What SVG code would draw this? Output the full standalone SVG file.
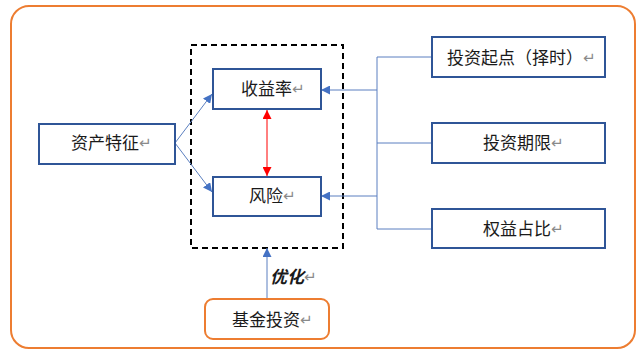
<svg xmlns="http://www.w3.org/2000/svg" width="640" height="354" viewBox="0 0 640 354">
<defs>
<style>
.node{fill:#fff;stroke:#2F5597;stroke-width:2}
.lbl{font-family:"Liberation Sans","Noto Sans CJK SC",sans-serif;font-size:17px;fill:#1a1a1a;dominant-baseline:central}
.pm{fill:#8a8a8a;font-size:15px;font-family:"DejaVu Sans",sans-serif}
.con{fill:none;stroke:#5B7FC0;stroke-width:1}
</style>
<marker id="ab" viewBox="0 0 10 10" refX="10" refY="5" markerWidth="9" markerHeight="9" markerUnits="userSpaceOnUse" orient="auto"><path d="M0,0 L10,5 L0,10 z" fill="#4472C4"/></marker>
<marker id="ar" viewBox="0 0 10 10" refX="10" refY="5" markerWidth="9" markerHeight="9" markerUnits="userSpaceOnUse" orient="auto-start-reverse"><path d="M0,0 L10,5 L0,10 z" fill="#FF0000"/></marker>
</defs>
<rect x="0" y="0" width="640" height="354" fill="#fff"/>
<rect x="11" y="6" width="624" height="342" rx="18" fill="none" stroke="#ED7D31" stroke-width="2"/>
<rect x="191" y="45" width="152" height="203" fill="none" stroke="#000" stroke-width="2" stroke-dasharray="6,4"/>
<g id="connectors">
<path class="con" d="M175,143 L212,94" marker-end="url(#ab)"/>
<path class="con" d="M175,143 L212,192" marker-end="url(#ab)"/>
<path class="con" d="M432,57 H377 V229 H432"/>
<path class="con" d="M377,143 H432"/>
<path class="con" d="M377,90 H321" marker-end="url(#ab)"/>
<path class="con" d="M377,196 H321" marker-end="url(#ab)"/>
<path d="M267,110 V176" stroke="#FF0000" stroke-width="1" fill="none" marker-start="url(#ar)" marker-end="url(#ar)"/>
<path class="con" d="M267,298 V248" marker-end="url(#ab)"/>
<text class="lbl" x="270" y="277" font-style="italic" font-weight="bold" font-size="16">优化<tspan class="pm" font-style="normal" font-weight="normal">↵</tspan></text>
</g>
<g id="n-asset"><rect class="node" x="39" y="124" width="136" height="40"/><text class="lbl" x="71" y="143">资产特征<tspan class="pm">↵</tspan></text></g>
<g id="n-return"><rect class="node" x="213" y="69" width="108" height="40"/><text class="lbl" x="241" y="89">收益率<tspan class="pm">↵</tspan></text></g>
<g id="n-risk"><rect class="node" x="213" y="177" width="108" height="39"/><text class="lbl" x="249" y="196">风险<tspan class="pm">↵</tspan></text></g>
<g id="n-start"><rect class="node" x="432" y="37" width="173" height="40"/><text class="lbl" x="447" y="58">投资起点（择时）<tspan class="pm">↵</tspan></text></g>
<g id="n-term"><rect class="node" x="432" y="123" width="173" height="40"/><text class="lbl" x="483" y="143">投资期限<tspan class="pm">↵</tspan></text></g>
<g id="n-equity"><rect class="node" x="432" y="209" width="173" height="39"/><text class="lbl" x="483" y="229">权益占比<tspan class="pm">↵</tspan></text></g>
<g id="n-fund"><rect x="205" y="299" width="124" height="40" rx="8" fill="#fff" stroke="#ED7D31" stroke-width="2"/><text class="lbl" x="232" y="320">基金投资<tspan class="pm">↵</tspan></text></g>
</svg>
